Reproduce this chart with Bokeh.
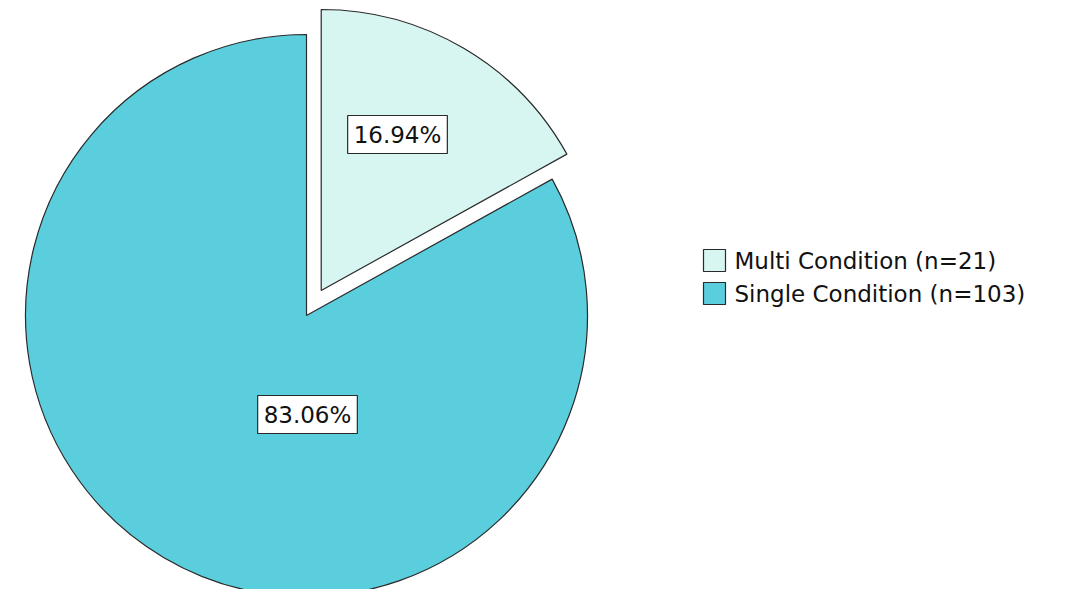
import math
from bokeh.plotting import figure
from bokeh.models import Range1d, Label
from bokeh.core.properties import value
from bokeh.embed import file_html
from bokeh.resources import INLINE

categories = ["Multi Condition", "Single Condition"]
counts = [21, 103]
colors = ["#D7F5F1", "#5BCEDE"]
exploded = [True, False]

total = sum(counts)
pcts = [c / total * 100 for c in counts]

W, H = 1068, 589
p = figure(width=W, height=H, output_backend="svg", toolbar_location=None,
           x_range=Range1d(0, W), y_range=Range1d(597 - H, 597),
           min_border=0)
p.axis.visible = False
p.grid.visible = False
p.outline_line_color = None
p.background_fill_color = "white"

cx, cy = 306, 597 - 315
R = 281
explode = 29
font = "DejaVu Sans"
fsize = "23px"

start = math.pi / 2
angles = []
for c in counts:
    sweep = c / total * 2 * math.pi
    angles.append((start - sweep, start))
    start -= sweep

for i, (a0, a1) in enumerate(angles):
    mid = (a0 + a1) / 2
    ox = cx + (explode * math.cos(mid) if exploded[i] else 0)
    oy = cy + (explode * math.sin(mid) if exploded[i] else 0)
    p.wedge(x=[ox], y=[oy], radius=R, start_angle=[a0], end_angle=[a1],
            direction="anticlock", fill_color=colors[i], line_color="#2a2a2a",
            line_width=1.2)

label_pos = [(397, 597 - 134), (307, 597 - 414)]
for i, pc in enumerate(pcts):
    lx, ly = label_pos[i]
    p.add_layout(Label(x=lx, y=ly, text=f"{pc:.2f}%", text_align="center",
                       text_baseline="middle", text_font=font, text_font_size=fsize,
                       text_color="#111111", background_fill_color="white",
                       border_line_color="#2a2a2a", border_line_width=1.2,
                       padding=6))

leg_x, leg_y0, leg_dy = 714, 597 - 260, 33
for i, cat in enumerate(categories):
    y = leg_y0 - i * leg_dy
    p.rect(x=[leg_x], y=[y], width=22, height=22, fill_color=colors[i],
           line_color="#2a2a2a", line_width=1.2)
    p.text(x=[leg_x + 20], y=[y], text=[f"{cat} (n={counts[i]})"],
           text_font=value(font), text_font_size=fsize, text_baseline="middle",
           text_align="left", text_color="#111111")

open("out.html", "w").write(file_html(p, INLINE))
